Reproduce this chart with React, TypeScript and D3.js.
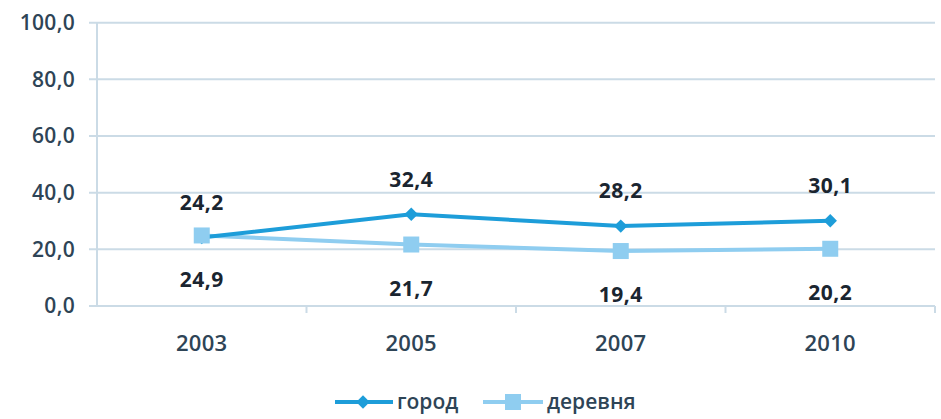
import React from "react";
import * as d3 from "d3";

const categories = ["2003", "2005", "2007", "2010"];
const gorod = [24.2, 32.4, 28.2, 30.1];
const derevnya = [24.9, 21.7, 19.4, 20.2];
const yTicks = [0, 20, 40, 60, 80, 100];
const seriesNames = ["город", "деревня"];

const W = 941;
const H = 419;
const left = 97;
const right = 935;
const top = 22.7;
const bottom = 306;

const fmt = (v: number) => v.toFixed(1).replace(".", ",");

export default function App() {
  const x = d3.scaleBand<string>().domain(categories).range([left, right]);
  const y = d3.scaleLinear().domain([0, 100]).range([bottom, top]);
  const cx = (c: string) => (x(c) as number) + x.bandwidth() / 2;
  const line = d3
    .line<number>()
    .x((_, i) => cx(categories[i]))
    .y((d) => y(d));

  const cGorod = "#1d9dd9";
  const cDer = "#8fcdf0";
  const textColor = "#2e4456";
  const labelColor = "#1a2530";
  const grid = "#cbdbe6";
  const font = "'Open Sans', sans-serif";
  const diamond = d3.symbol().type(d3.symbolSquare).size(90)() || "";

  return (
    <svg
      width={W}
      height={H}
      style={{ position: "absolute", left: 0, top: 0, background: "#fff" }}
      fontFamily={font}
    >
      {yTicks.map((t) => (
        <g key={t}>
          <line x1={left - 8} x2={right} y1={y(t)} y2={y(t)} stroke={grid} strokeWidth={2} />
          <text
            x={left - 22}
            y={y(t)}
            dy="0.35em"
            textAnchor="end"
            fontSize={21}
            fontWeight={600}
            fill={textColor}
            letterSpacing={0.3}
          >
            {fmt(t)}
          </text>
        </g>
      ))}
      <line x1={left} x2={left} y1={top} y2={bottom} stroke={grid} strokeWidth={2} />
      {categories.map((c) => (
        <g key={c}>
          <line
            x1={(x(c) as number) + x.bandwidth()}
            x2={(x(c) as number) + x.bandwidth()}
            y1={bottom}
            y2={bottom + 7}
            stroke={grid}
            strokeWidth={2}
          />
          <text
            x={cx(c)}
            y={343}
            dy="0.35em"
            textAnchor="middle"
            fontSize={22}
            fontWeight={600}
            fill={textColor}
            letterSpacing={0.3}
          >
            {c}
          </text>
        </g>
      ))}
      <path d={line(derevnya) || ""} fill="none" stroke={cDer} strokeWidth={4} />
      <path d={line(gorod) || ""} fill="none" stroke={cGorod} strokeWidth={4} />
      {gorod.map((v, i) => (
        <path
          key={"g" + i}
          d={diamond}
          transform={`translate(${cx(categories[i])},${y(v)}) rotate(45)`}
          fill={cGorod}
        />
      ))}
      {derevnya.map((v, i) => (
        <rect
          key={"d" + i}
          x={cx(categories[i]) - 8}
          y={y(v) - 8}
          width={16}
          height={16}
          fill={cDer}
        />
      ))}
      {gorod.map((v, i) => (
        <text
          key={"gl" + i}
          x={cx(categories[i])}
          y={y(v) - 35}
          dy="0.35em"
          textAnchor="middle"
          fontSize={21}
          fontWeight="bold"
          fill={labelColor}
          letterSpacing={0.5}
        >
          {fmt(v)}
        </text>
      ))}
      {derevnya.map((v, i) => (
        <text
          key={"dl" + i}
          x={cx(categories[i])}
          y={y(v) + 44}
          dy="0.35em"
          textAnchor="middle"
          fontSize={21}
          fontWeight="bold"
          fill={labelColor}
          letterSpacing={0.5}
        >
          {fmt(v)}
        </text>
      ))}
      <g>
        <line x1={335} x2={393} y1={402} y2={402} stroke={cGorod} strokeWidth={4} />
        <path d={diamond} transform="translate(363,402) rotate(45)" fill={cGorod} />
        <text x={397} y={402} dy="0.35em" fontSize={21} fontWeight={600} fill={textColor}>
          {seriesNames[0]}
        </text>
        <line x1={483} x2={543} y1={402} y2={402} stroke={cDer} strokeWidth={4} />
        <rect x={505} y={394} width={16} height={16} fill={cDer} />
        <text x={547} y={402} dy="0.35em" fontSize={21} fontWeight={600} fill={textColor}>
          {seriesNames[1]}
        </text>
      </g>
    </svg>
  );
}
